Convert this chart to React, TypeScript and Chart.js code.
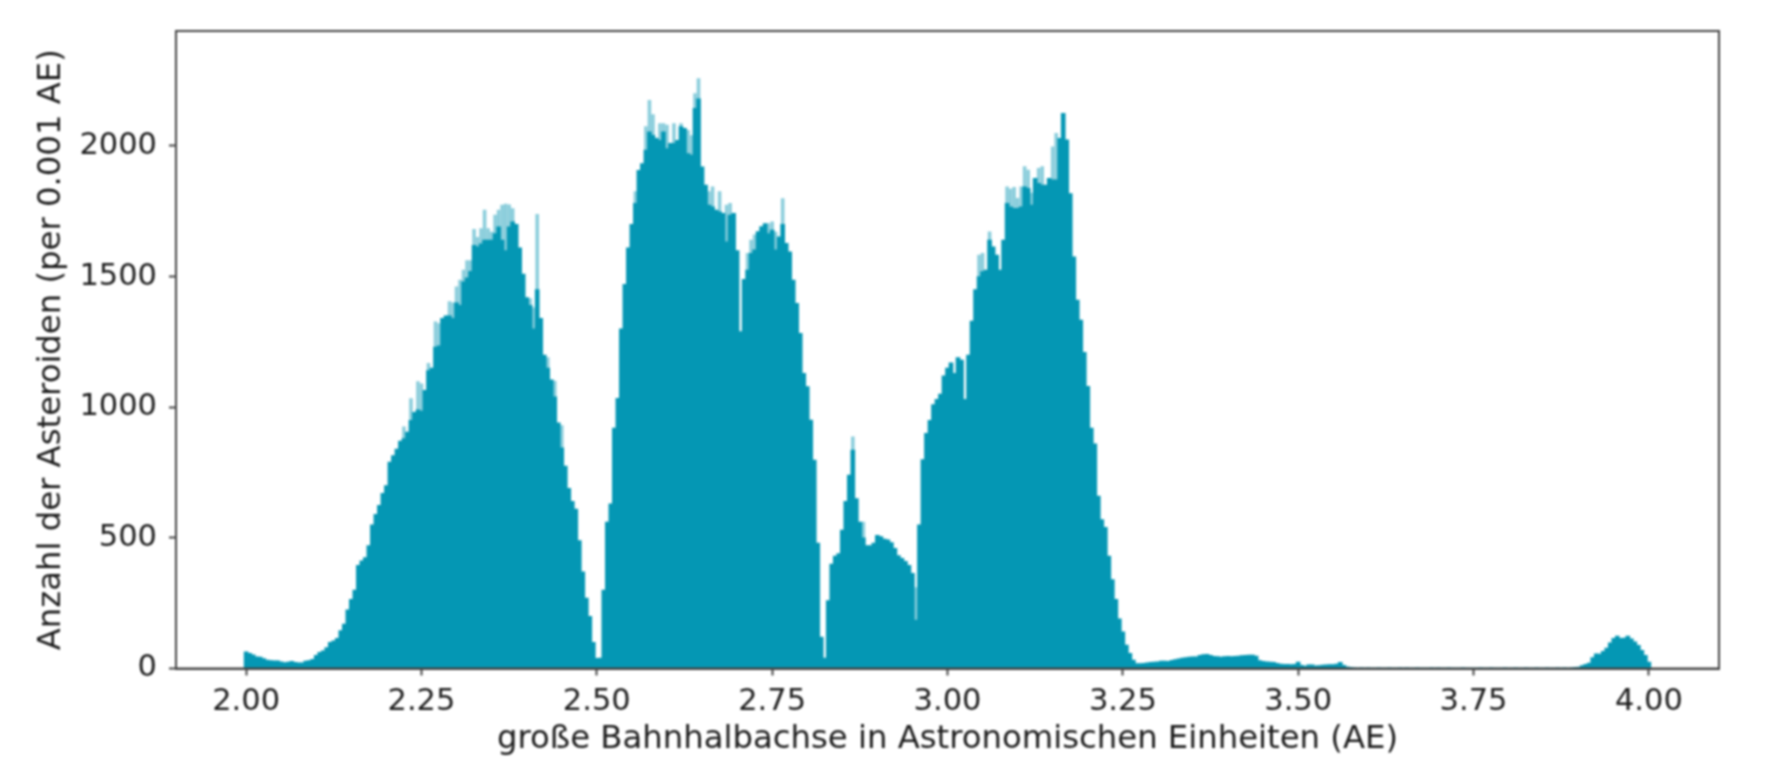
import { useEffect, useRef } from "react";
import { Chart, registerables } from "chart.js";

Chart.register(...registerables);

// bins of 0.005 AE, starting at 2.00 AE (10 per row)
const binStart = 2.0;
const binWidth = 0.005;
const counts = [
  64, 58, 52, 45, 44, 38, 32, 30, 29, 29,
  26, 23, 25, 27, 24, 22, 22, 28, 30, 35,
  50, 62, 68, 80, 100, 106, 115, 145, 170, 225,
  265, 300, 395, 412, 425, 470, 550, 590, 625, 670,
  700, 790, 815, 840, 870, 880, 905, 950, 980, 990,
  985, 1065, 1140, 1150, 1230, 1235, 1340, 1350, 1350, 1340,
  1400, 1390, 1480, 1495, 1520, 1620, 1614, 1625, 1640, 1640,
  1640, 1665, 1690, 1640, 1600, 1690, 1710, 1700, 1610, 1510,
  1420, 1390, 1300, 1450, 1340, 1200, 1150, 1105, 1040, 940,
  845, 775, 690, 640, 610, 490, 370, 270, 200, 100,
  39, 40, 300, 560, 630, 920, 1034, 1300, 1470, 1610,
  1700, 1780, 1907, 1933, 1984, 2054, 2041, 2029, 2022, 2054,
  1990, 2010, 2010, 2022, 2074, 2067, 1971, 1965, 2144, 2180,
  1920, 1850, 1774, 1767, 1755, 1748, 1742, 1633, 1735, 1742,
  1600, 1290, 1490, 1525, 1589, 1602, 1672, 1691, 1703, 1665,
  1678, 1602, 1652, 1700, 1627, 1595, 1487, 1398, 1283, 1130,
  1079, 951, 798, 480, 120, 40, 260, 400, 430, 440,
  530, 640, 740, 836, 650, 560, 500, 470, 470, 480,
  510, 505, 495, 492, 482, 460, 432, 422, 410, 395,
  364, 185, 550, 800, 900, 950, 1010, 1030, 1050, 1120,
  1150, 1170, 1130, 1190, 1180, 1030, 1200, 1330, 1450, 1500,
  1519, 1525, 1640, 1614, 1582, 1525, 1640, 1780, 1767, 1761,
  1761, 1767, 1844, 1838, 1774, 1876, 1857, 1850, 1850, 1876,
  1870, 1870, 2029, 2125, 2023, 1818, 1576, 1410, 1334, 1210,
  1080, 920, 860, 660, 570, 540, 430, 340, 265, 190,
  140, 90, 58, 32, 19, 19, 20, 22, 24, 25,
  26, 28, 28, 27, 31, 34, 37, 40, 42, 44,
  45, 45, 50, 53, 54, 50, 47, 46, 44, 46,
  47, 46, 47, 48, 49, 50, 51, 51, 48, 30,
  27, 26, 25, 24, 20, 17, 16, 16, 15, 16,
  25, 12, 9, 14, 14, 10, 11, 13, 14, 15,
  15, 17, 24, 12, 6, 4, 3, 2, 3, 2,
  3, 2, 2, 3, 2, 1, 3, 2, 2, 3,
  2, 3, 1, 2, 3, 2, 2, 1, 3, 2,
  3, 2, 2, 3, 1, 2, 2, 3, 2, 2,
  1, 2, 3, 2, 2, 3, 2, 1, 2, 3,
  2, 2, 3, 2, 1, 3, 2, 2, 3, 2,
  2, 3, 2, 2, 3, 2, 3, 2, 3, 4,
  5, 11, 16, 21, 42, 56, 55, 66, 78, 98,
  115, 124, 115, 116, 124, 114, 102, 89, 70, 50,
  25,
];

// thin spikes above the solid body, they look paler in the picture
const spikeBins = [
  45, 47, 49, 50, 52, 54, 55, 58, 59, 60, 61, 62, 63, 64, 65, 66, 67, 68, 69, 70, 71, 72, 73, 74, 75, 76,
  81, 82, 83, 86, 88, 90,
  111, 114, 115, 116, 118, 119, 120, 122, 124, 126, 127, 128, 129, 132, 133, 135, 137, 138,
  143, 144, 145, 149, 150, 151, 153, 173, 176, 191,
  209, 210, 212, 217, 218, 219, 220, 221, 222, 223, 224, 226, 227, 230, 231,
];
const spikeCounts = [
  925, 1033, 1098, 1090, 1168, 1327, 1320, 1404, 1400, 1461, 1487, 1525, 1561, 1561, 1681, 1650, 1684, 1755, 1684, 1670, 1735, 1755, 1774, 1778, 1775, 1760,
  1416, 1380, 1738, 1190, 1100, 930,
  1825, 2074, 2175, 2120, 2086, 2086, 2080, 2086, 2086, 2060, 2040, 2200, 2258, 1825, 1844, 1825, 1774, 1780,
  1589, 1640, 1660, 1703, 1710, 1670, 1799, 887, 560, 310,
  1582, 1589, 1671, 1844, 1835, 1842, 1800, 1844, 1921, 1908, 1820, 1914, 1921, 1997, 2048,
];

const xTicks = [2, 2.25, 2.5, 2.75, 3, 3.25, 3.5, 3.75, 4];
const yTicks = [0, 500, 1000, 1500, 2000];

const tickFont = { family: "'DejaVu Sans'", size: 30.5 };
const titleFont = { family: "'DejaVu Sans'", size: 32.3 };
const textColor = "#1c1c1c";
const axisColor = "#444444";

const frame = {
  id: "frame",
  afterDatasetsDraw(chart: any) {
    const { ctx, chartArea: a } = chart;
    ctx.save();
    ctx.strokeStyle = axisColor;
    ctx.lineWidth = 2;
    ctx.strokeRect(a.left, a.top, a.right - a.left, a.bottom - a.top);
    ctx.restore();
  },
};

export default function App() {
  const chartRef = useRef<HTMLCanvasElement | null>(null);

  useEffect(() => {
    const canvas = chartRef.current;
    if (!canvas) return;

    const chart = new Chart(canvas, {
      type: "bar",
      data: {
        datasets: [
          {
            label: "Anzahl",
            data: counts.map((c, i) => ({ x: binStart + i * binWidth, y: c })),
            backgroundColor: "#0497B4",
            barThickness: 4,
            borderWidth: 0,
            order: 1,
          },
          {
            label: "Spitzen",
            data: spikeBins.map((b, i) => ({ x: binStart + b * binWidth, y: spikeCounts[i] })),
            backgroundColor: "#8CCEDC",
            barThickness: 3,
            borderWidth: 0,
            order: 2,
          },
        ],
      },
      options: {
        responsive: false,
        animation: false,
        devicePixelRatio: 1,
        layout: { padding: { top: 31, right: 53, left: 0, bottom: 0 } },
        plugins: { legend: { display: false }, tooltip: { enabled: false } },
        datasets: { bar: { grouped: false } },
        scales: {
          x: {
            type: "linear",
            offset: false,
            min: 1.9,
            max: 4.1,
            afterBuildTicks: (axis: any) => {
              axis.ticks = xTicks.map((value) => ({ value }));
            },
            afterFit: (axis: any) => {
              axis.height = 113.5;
            },
            ticks: {
              font: tickFont,
              color: textColor,
              padding: 8,
              maxRotation: 0,
              callback: (v: any) => Number(v).toFixed(2),
            },
            grid: { offset: false, drawOnChartArea: false, tickLength: 7, tickWidth: 2, tickColor: axisColor },
            border: { color: axisColor, width: 2 },
            title: {
              display: true,
              text: "große Bahnhalbachse in Astronomischen Einheiten (AE)",
              font: titleFont,
              color: textColor,
              padding: { top: 0, bottom: 23 },
            },
          },
          y: {
            type: "linear",
            min: 0,
            max: 2440,
            afterBuildTicks: (axis: any) => {
              axis.ticks = yTicks.map((value) => ({ value }));
            },
            afterFit: (axis: any) => {
              axis.width = 176;
            },
            ticks: { font: tickFont, color: textColor, padding: 12, callback: (v: any) => String(v) },
            grid: { drawOnChartArea: false, tickLength: 7, tickWidth: 2, tickColor: axisColor },
            border: { color: axisColor, width: 2 },
            title: {
              display: true,
              text: "Anzahl der Asteroiden (per 0.001 AE)",
              font: titleFont,
              color: textColor,
              padding: { top: 32, bottom: 0 },
            },
          },
        },
      },
      plugins: [frame],
    } as any);

    return () => {
      chart.destroy();
    };
  }, []);

  return (
    <canvas
      ref={chartRef}
      width={1772}
      height={782}
      style={{ position: "absolute", left: 0, top: 0, width: 1772, height: 782, filter: "blur(1px)" }}
    ></canvas>
  );
}
